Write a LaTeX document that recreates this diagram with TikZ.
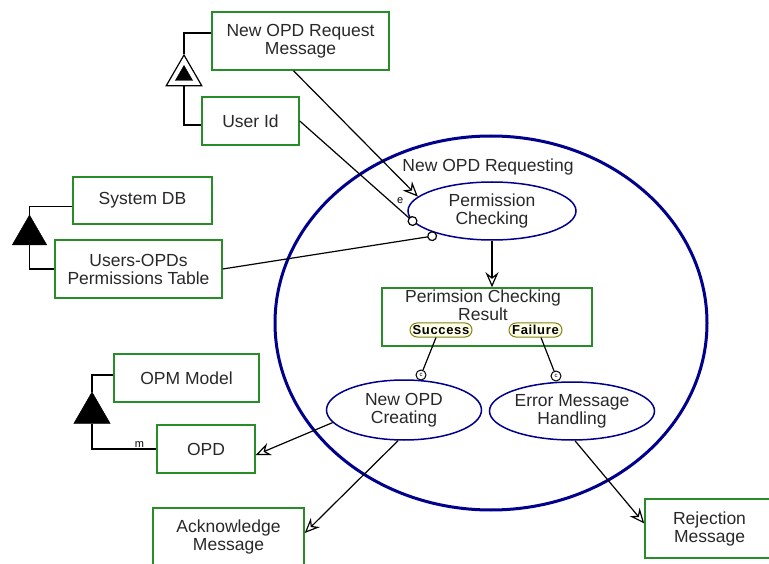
\documentclass[tikz,border=0pt]{standalone}
\usepackage{fontspec}
\setmainfont{Liberation Sans}
\usetikzlibrary{shapes.geometric,arrows.meta,positioning}
\definecolor{objgreen}{RGB}{40,140,40}
\definecolor{procblue}{RGB}{0,0,140}
\definecolor{stateolive}{RGB}{130,130,20}
\definecolor{statefill}{RGB}{255,255,232}
\definecolor{labelgray}{RGB}{40,40,40}
\newcommand{\opmfont}{\fontsize{17.5}{18}\selectfont}
\tikzset{
  opmobject/.style={draw=objgreen, line width=1.5pt, rectangle, align=center, text=labelgray, font=\opmfont, inner sep=0pt},
  opmprocess/.style={draw=procblue, line width=1.5pt, ellipse, align=center, text=labelgray, font=\opmfont, inner sep=0pt},
  opmstate/.style={draw=stateolive, fill=statefill, line width=1pt, rounded corners=7pt, minimum height=14pt, inner sep=0pt, font=\fontsize{13}{13}\selectfont\bfseries\addfontfeature{LetterSpace=5}},
  opmtext/.style={text=labelgray, font=\opmfont, align=center, inner sep=0pt},
  aggregation/.style={regular polygon, regular polygon sides=3, fill=black, draw=black, inner sep=0pt},
  opmlink/.style={line width=1.2pt},
  result/.style={-{Stealth[open,length=15pt,width=13pt,inset=5pt]}},
  instrument/.style={-{Circle[fill=white,length=10pt]}},
  condition/.style={circle, draw, fill=white, line width=1pt, minimum size=10pt, inner sep=0pt, font=\fontsize{6}{6}\selectfont}
}

\begin{document}
\begin{tikzpicture}[x=1pt,y=-1pt]
\useasboundingbox (0,0) rectangle (769,564);
% in-zoomed process
\node[opmprocess, line width=3pt, minimum width=432pt, minimum height=374pt] (requesting) at (491,323) {};
\node[opmtext] (requestinglabel) at (488,167) {New OPD Requesting};
\node[opmprocess, minimum width=168pt, minimum height=58pt] (checking) at (492,211) {Permission\\Checking};
\node[opmobject, minimum width=210pt, minimum height=58pt] (checkresult) at (487,317) {};
\node[opmtext] (checkresultlabel) at (483,305) {Perimsion Checking\\Result};
\node[opmstate, minimum width=62pt] (success) at (441,330) {Success};
\node[opmstate, minimum width=53pt] (failure) at (535.5,330) {Failure};
\node[condition] (condsuccess) at (421,375) {c};
\node[condition] (condfailure) at (556,376) {c};
\node[opmprocess, minimum width=155pt, minimum height=60pt] (creating) at (404,410) {New OPD\\Creating};
\node[opmprocess, minimum width=165pt, minimum height=58pt] (handling) at (572,411) {Error Message\\Handling};

% objects
\node[opmobject, minimum width=177pt, minimum height=58pt] (reqmsg) at (300.5,41) {New OPD Request\\Message};
\node[opmobject, minimum width=97pt, minimum height=48pt] (userid) at (250.5,121) {User Id};
\node[opmobject, minimum width=139pt, minimum height=47pt] (sysdb) at (142.5,200.5) {System DB};
\node[opmobject, minimum width=167pt, minimum height=58pt] (permtable) at (138.5,269) {Users-OPDs\\Permissions Table};
\node[opmobject, minimum width=145pt, minimum height=48pt] (opmmodel) at (186.5,378) {OPM Model};
\node[opmobject, minimum width=98pt, minimum height=48pt] (opd) at (206,449) {OPD};
\node[opmobject, minimum width=151pt, minimum height=58pt] (ackmsg) at (228.5,537) {Acknowledge\\Message};
\node[opmobject, minimum width=129pt, minimum height=59pt] (rejmsg) at (709.5,528.5) {Rejection\\Message};

% structural links
\node[aggregation, fill=white, line width=1.2pt, minimum size=41pt] (exhibit) at (184,75.5) {};
\node[aggregation, minimum size=20pt] (exhibitin) at (184,75.5) {};
\node[aggregation, minimum size=40pt] (dbagg) at (29.5,235) {};
\node[aggregation, minimum size=42pt] (modelagg) at (92,413) {};
\draw[opmlink] (exhibit.corner 1) |- ([yshift=8pt]reqmsg.west);
\draw[opmlink] (exhibit.south) |- ([yshift=-4pt]userid.west);
\draw[opmlink] (dbagg.corner 1) |- ([yshift=-6pt]sysdb.west);
\draw[opmlink] (dbagg.south) |- (permtable.west);
\draw[opmlink] (modelagg.corner 1) |- ([yshift=3pt]opmmodel.west);
\draw[opmlink] (modelagg.south) |- node[pos=0.87, above, inner sep=1pt, font=\fontsize{11}{11}\selectfont] {m} (opd.west);

% procedural links
\path[opmlink, result]
  ([xshift=-7pt]reqmsg.south) edge node[pos=1, left=13pt, yshift=-4pt, inner sep=1pt, font=\fontsize{11}{11}\selectfont] {e} (checking.169)
  (checking.south) edge (checking.south |- checkresult.north)
  (creating.190) edge ([yshift=-6pt]opd.east)
  ([xshift=-6pt]creating.south) edge ([yshift=4pt]ackmsg.east)
  ([xshift=3pt]handling.south) edge ([yshift=5pt]rejmsg.west);
\path[opmlink, instrument]
  (userid.east) edge (checking.190)
  (permtable.east) edge[shorten >=4pt] (checking.205);
\path[opmlink]
  ([xshift=-5pt]success.south) edge (condsuccess)
  ([xshift=5.5pt]failure.south) edge (condfailure);
\end{tikzpicture}
\end{document}
